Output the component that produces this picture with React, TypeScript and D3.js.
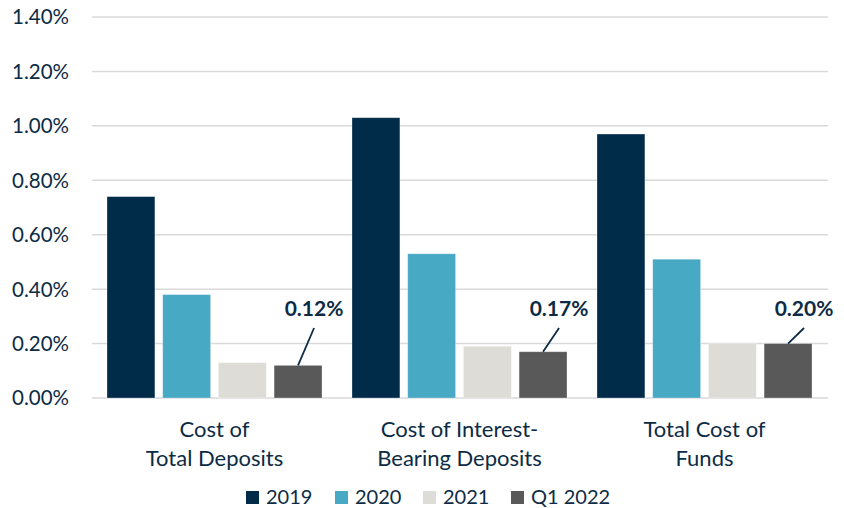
import React from "react";
import * as d3 from "d3";

const categories: string[][] = [
  ["Cost of", "Total Deposits"],
  ["Cost of Interest-", "Bearing Deposits"],
  ["Total Cost of", "Funds"],
];
const seriesNames = ["2019", "2020", "2021", "Q1 2022"];
const values2019 = [0.74, 1.03, 0.97];
const values2020 = [0.38, 0.53, 0.51];
const values2021 = [0.13, 0.19, 0.2];
const valuesQ12022 = [0.12, 0.17, 0.2];
const yTicks = [0, 0.2, 0.4, 0.6, 0.8, 1.0, 1.2, 1.4];
const colors = ["#002b49", "#48a9c5", "#dddcd7", "#595959"];

const W = 844;
const H = 508;
const textColor = "#0d2b45";
const font = "Lato, 'Open Sans', sans-serif";

export default function App() {
  const series = [values2019, values2020, values2021, valuesQ12022];
  const y = d3.scaleLinear().domain([0, 1.4]).range([398, 17]);
  const x0 = d3.scaleBand<number>().domain([0, 1, 2]).range([92, 827]).padding(0);
  const x1 = d3
    .scaleBand<number>()
    .domain([0, 1, 2, 3])
    .range([15, x0.bandwidth() - 15])
    .paddingInner(0.14)
    .paddingOuter(0);
  const fmt = (v: number) => v.toFixed(2) + "%";
  const legendX = [246, 335, 423, 511];

  return (
    <svg width={W} height={H} style={{ position: "absolute", left: 0, top: 0 }}>
      <rect width={W} height={H} fill="#ffffff" />
      {yTicks.map((t) => (
        <g key={t}>
          <line x1={92} x2={828} y1={y(t)} y2={y(t)} stroke="#d9d9d9" strokeWidth={1.5} />
          <text
            x={69}
            y={y(t)}
            dy="0.36em"
            textAnchor="end"
            fontFamily={font}
            fontSize={20.5}
            fill={textColor}
          >
            {fmt(t)}
          </text>
        </g>
      ))}
      {categories.map((cat, ci) => (
        <g key={ci} transform={`translate(${x0(ci)},0)`}>
          {series.map((s, si) => (
            <rect
              key={si}
              x={x1(si)}
              y={y(s[ci])}
              width={x1.bandwidth()}
              height={y(0) - y(s[ci])}
              fill={colors[si]}
              stroke="#ffffff"
              strokeOpacity={0.4}
              strokeWidth={0.75}
            />
          ))}
          {cat.map((line, li) => (
            <text
              key={li}
              x={x0.bandwidth() / 2}
              y={437 + li * 29}
              textAnchor="middle"
              fontFamily={font}
              fontSize={22}
              fill={textColor}
            >
              {line}
            </text>
          ))}
          {(() => {
            const v = valuesQ12022[ci];
            const cx = (x1(3) as number) + x1.bandwidth() / 2;
            const lx = cx + 16;
            return (
              <g>
                <line
                  x1={cx}
                  y1={y(v)}
                  x2={lx}
                  y2={328}
                  stroke={textColor}
                  strokeWidth={1.8}
                />
                <text
                  x={lx}
                  y={316}
                  textAnchor="middle"
                  fontFamily={font}
                  fontSize={21}
                  fontWeight="bold"
                  fill={textColor}
                >
                  {fmt(v)}
                </text>
              </g>
            );
          })()}
        </g>
      ))}
      {seriesNames.map((n, i) => (
        <g key={n}>
          <rect x={legendX[i]} y={491} width={13} height={13} fill={colors[i]} />
          <text x={legendX[i] + 20} y={504} fontFamily={font} fontSize={20} fill={textColor}>
            {n}
          </text>
        </g>
      ))}
    </svg>
  );
}
